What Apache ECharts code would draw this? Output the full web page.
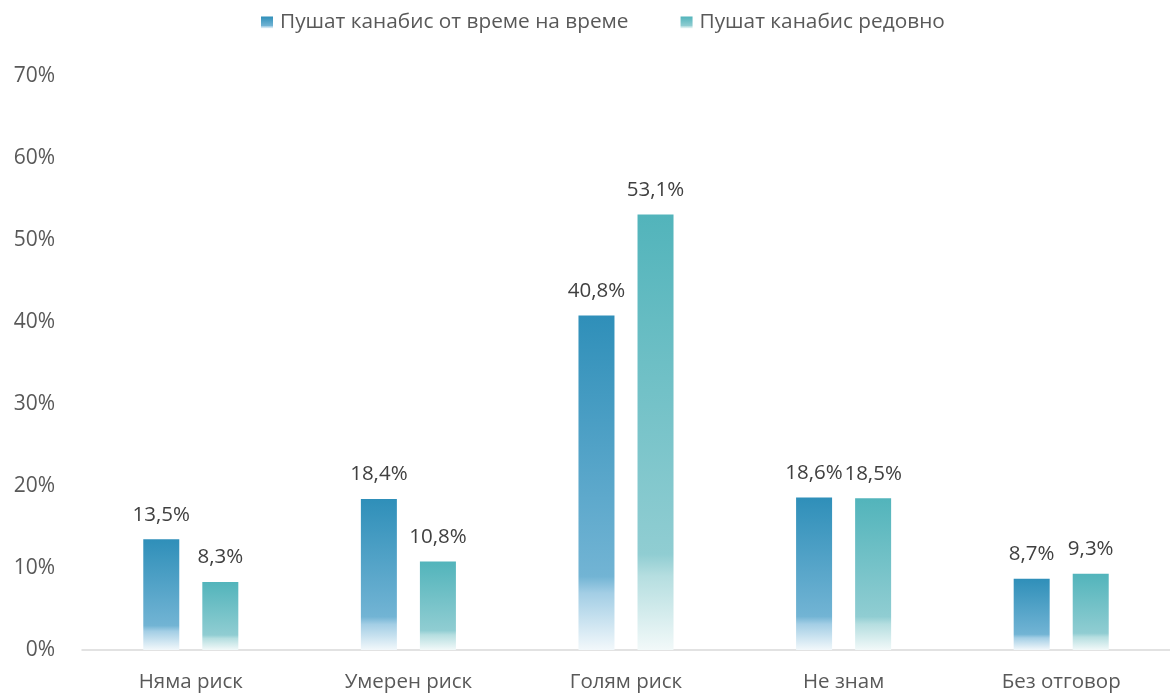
<!DOCTYPE html>
<html>
<head>
<meta charset="utf-8">
<script src="https://cdn.jsdelivr.net/npm/echarts@6/dist/echarts.min.js"></script>
<style>
  html, body { margin: 0; padding: 0; background: #ffffff; }
  #chart { width: 1170px; height: 695px; }
</style>
</head>
<body>
<div id="chart"></div>
<script>
// Perceived risk of cannabis use, by frequency of use
const categories = ['Няма риск', 'Умерен риск', 'Голям риск', 'Не знам', 'Без отговор'];
const seriesNames = ['Пушат канабис от време на време', 'Пушат канабис редовно'];
const occasional = [13.5, 18.4, 40.8, 18.6, 8.7];
const regular = [8.3, 10.8, 53.1, 18.5, 9.3];
const yTicks = [0, 10, 20, 30, 40, 50, 60, 70];

const fmt = v => v.toFixed(1).replace('.', ',') + '%';

// vertical gradient that turns pale near the base of each bar
function fade(top, mid, low, bottom) {
  return new echarts.graphic.LinearGradient(0, 0, 0, 1, [
    { offset: 0, color: top },
    { offset: 0.78, color: mid },
    { offset: 0.83, color: low },
    { offset: 1, color: bottom }
  ]);
}

const blue = fade('#2F8FB9', '#72B4D4', '#A3CEE5', '#F2F8FB');
const teal = fade('#52B4BB', '#90CDD2', '#B5DEE0', '#F2F9F9');

const labelStyle = {
  show: true, position: 'top', distance: 14,
  fontFamily: 'Open Sans', fontSize: 20.5, color: '#404040',
  formatter: p => fmt(p.value)
};

const chart = echarts.init(document.getElementById('chart'));
chart.setOption({
  animation: false,
  legend: {
    top: 7,
    left: 256,
    itemWidth: 12,
    itemHeight: 12,
    itemGap: 52,
    icon: 'rect',
    textStyle: { fontFamily: 'Open Sans', fontSize: 20.8, color: '#595959', padding: [0, 0, 0, 2] },
    data: seriesNames
  },
  grid: { left: 82, width: 1093, top: 76, bottom: 45, containLabel: false },
  xAxis: {
    type: 'category',
    data: categories,
    axisLine: { lineStyle: { color: '#d9d9d9', width: 1.5 } },
    axisTick: { show: false },
    axisLabel: { fontFamily: 'Open Sans', fontSize: 20.5, color: '#595959', margin: 22 }
  },
  yAxis: {
    type: 'value',
    min: yTicks[0],
    max: yTicks[yTicks.length - 1],
    interval: 10,
    axisLine: { show: false },
    axisTick: { show: false },
    splitLine: { show: false },
    axisLabel: {
      fontFamily: 'Open Sans', fontSize: 21, color: '#595959', margin: 27,
      formatter: v => v + '%'
    }
  },
  series: [
    {
      name: seriesNames[0],
      type: 'bar',
      data: occasional,
      barWidth: 36,
      barGap: '64%',
      itemStyle: { color: blue },
      label: labelStyle
    },
    {
      name: seriesNames[1],
      type: 'bar',
      data: regular,
      barWidth: 36,
      itemStyle: { color: teal },
      label: labelStyle
    }
  ]
});
</script>
</body>
</html>
